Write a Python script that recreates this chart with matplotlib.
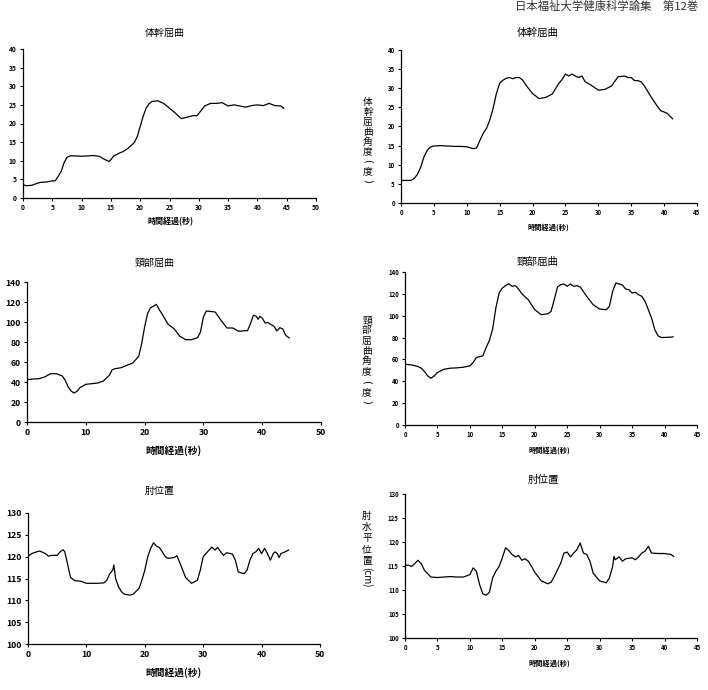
"""
Six time-course panels (trunk flexion, neck flexion, elbow position) for two
subjects, laid out as in the journal page.

Writes out.png.
"""

import matplotlib
matplotlib.use("Agg")
import matplotlib.pyplot as plt

plt.rcParams["font.family"] = ["Noto Sans CJK JP", "DejaVu Sans"]

W, H = 708, 690

# --- data (time in s, value) ---
trunk_l_t = [0, 0.5, 1.5, 2.5, 3, 4, 5, 5.5, 6, 6.5, 7, 7.5, 8, 9, 10, 11, 12, 13, 14,
             14.7, 15, 15.5, 16.5, 17, 18, 19, 19.5, 20, 20.5, 21, 21.5, 22, 23, 24, 25,
             26, 27, 28, 29, 29.7, 30.5, 31, 32, 33, 34, 35, 36, 37, 38, 39, 40, 41, 42,
             43, 44, 44.5]
trunk_l_v = [3.6, 3.3, 3.4, 4.0, 4.2, 4.3, 4.6, 4.6, 5.8, 7.1, 9.4, 10.9, 11.3, 11.3,
             11.2, 11.3, 11.4, 11.2, 10.3, 9.8, 10.3, 11.3, 12.1, 12.4, 13.4, 14.9, 16.5,
             19.2, 21.9, 24.1, 25.3, 25.9, 26.1, 25.4, 24.1, 22.8, 21.3, 21.7, 22.1, 22.1,
             23.7, 24.7, 25.4, 25.4, 25.6, 24.7, 25.0, 24.7, 24.4, 24.8, 25.0, 24.8, 25.4,
             24.8, 24.7, 24.1]

trunk_r_t = [0, 1.5, 2, 2.5, 3, 3.5, 4, 4.5, 5, 6, 7, 8, 9, 10, 11, 11.5, 12, 12.5, 13,
             13.5, 14, 14.5, 15, 15.5, 16, 16.5, 17, 17.5, 18, 18.5, 19, 20, 21, 22, 23,
             24, 24.5, 25, 25.5, 26, 26.5, 27, 27.5, 28, 29, 30, 31, 32, 33, 34, 34.5, 35,
             35.5, 36, 36.5, 37, 38, 39, 39.5, 40, 40.5, 41, 41.3]
trunk_r_v = [5.9, 5.9, 6.4, 7.5, 9.4, 12.1, 13.8, 14.7, 14.9, 15.0, 14.9, 14.8, 14.8,
             14.7, 14.2, 14.4, 16.4, 18.2, 19.5, 21.7, 24.7, 28.6, 31.3, 32.1, 32.6, 32.8,
             32.5, 32.8, 32.8, 32.1, 30.8, 28.6, 27.3, 27.6, 28.5, 31.3, 32.3, 33.7, 33.2,
             33.7, 33.2, 32.8, 33.2, 31.7, 30.7, 29.5, 29.7, 30.6, 33.0, 33.2, 32.8, 32.8,
             32.0, 32.0, 31.7, 30.6, 27.8, 25.2, 24.1, 23.8, 23.4, 22.5, 22.0]

neck_l_t = [0, 1, 2, 3, 4, 5, 6, 6.5, 7, 7.5, 8, 8.5, 9, 10, 11, 12, 13, 14, 14.5, 15,
            16, 17, 18, 19, 19.5, 20, 20.5, 21, 21.5, 22, 22.5, 23, 24, 25, 26, 27, 28,
            29, 29.5, 30, 30.5, 31, 32, 33, 34, 35, 36, 37, 37.5, 38, 38.5, 39, 39.3,
            39.6, 40, 40.5, 41, 42, 42.5, 43, 43.5, 44, 44.6]
neck_l_v = [42.3, 43, 43.3, 45, 48.3, 48.3, 46, 41.7, 35, 31, 29, 30.7, 34.3, 37.7,
            38.3, 39, 41, 46.7, 52.3, 53.3, 54.3, 56.7, 59, 65.7, 78.3, 95, 108.3, 114.3,
            115.7, 117.7, 112.3, 107.7, 97.7, 93.3, 85.7, 82.3, 82.3, 84.3, 90, 105, 111,
            110.7, 110, 101.7, 94, 94, 90.7, 91.3, 91.3, 98.3, 106.7, 105.7, 102.7,
            105.7, 104, 99, 99.3, 95.7, 91, 94.3, 93, 86.7, 84]

neck_r_t = [0, 1, 2, 2.5, 3, 3.5, 4, 4.5, 5, 6, 7, 8, 9, 10, 10.5, 11, 12, 12.5, 13,
            13.5, 14, 14.5, 15, 15.5, 16, 16.5, 17, 17.5, 18, 19, 20, 21, 22, 22.5, 23,
            23.5, 24, 24.5, 25, 25.5, 26, 26.5, 27, 28, 29, 30, 31, 31.5, 32, 32.5, 33,
            33.5, 34, 34.5, 35, 35.5, 36, 36.5, 37, 38, 38.5, 39, 39.5, 40, 41, 41.3]
neck_r_v = [55.6, 55, 53.5, 52, 48.9, 44.9, 42.8, 44.9, 48, 51, 52, 52.3, 52.9, 54.1,
            57.2, 61.8, 63.3, 70.9, 77.3, 87.7, 107, 120.8, 125.3, 127.5, 129.3, 126.9,
            127.5, 124.4, 120.1, 114.6, 105.5, 100.9, 101.8, 103.9, 114.6, 126.3, 128.4,
            129, 126.9, 129, 126.9, 127.5, 126.3, 117.7, 110.1, 106.1, 105.5, 108.5,
            122.3, 129.9, 129, 128.1, 124.4, 123.8, 120.8, 121.4, 119.2, 117.7, 113.1,
            97.8, 87.1, 81.6, 80.1, 80.1, 80.4, 80.7]

elbow_l_t = [0, 0.5, 1, 2, 3, 3.5, 4, 5, 5.5, 6, 6.3, 6.7, 7, 7.3, 8, 9, 10, 11, 12, 13,
             13.5, 14, 14.5, 14.7, 15, 15.5, 16, 16.5, 17, 17.5, 18, 19, 19.5, 20, 20.5,
             21, 21.5, 22, 22.5, 23, 23.5, 24, 25, 25.5, 26, 26.5, 27, 28, 29, 29.5, 30,
             31, 31.5, 32, 32.5, 33, 33.5, 34, 35, 35.5, 36, 37, 37.5, 38, 38.5, 39, 39.5,
             40, 40.5, 41, 41.5, 42, 42.3, 42.7, 43, 43.3, 44, 44.6]
elbow_l_v = [120.1, 120.6, 120.9, 121.3, 120.7, 120.1, 120.3, 120.3, 121.1, 121.6,
             121.1, 118.8, 116.9, 115.2, 114.5, 114.4, 113.9, 113.9, 113.9, 114, 114.6,
             116.1, 116.9, 118.1, 115, 113.1, 112, 111.4, 111.3, 111.2, 111.4, 112.7,
             114.6, 116.9, 120, 121.9, 123.2, 122.4, 122.1, 121.1, 120, 119.6, 119.8,
             120.2, 118.6, 116.9, 115.2, 113.9, 114.6, 116.9, 120, 121.5, 122.2, 121.5,
             122.1, 121.1, 120.3, 120.9, 120.6, 119.2, 116.5, 116.1, 116.9, 119.2, 120.7,
             121.1, 121.9, 120.7, 121.9, 120.7, 119.2, 120.7, 121.1, 120.7, 119.8, 120.7,
             121.1, 121.5]

elbow_r_t = [0, 0.5, 1, 1.5, 2, 2.5, 3, 3.5, 4, 5, 6, 7, 8, 9, 10, 10.5, 11, 11.5, 12,
             12.5, 13, 13.5, 14, 14.5, 15, 15.5, 16, 16.5, 17, 17.5, 18, 18.5, 19, 19.5,
             20, 21, 22, 22.5, 23, 24, 24.5, 25, 25.5, 26, 26.5, 27, 27.5, 28, 28.5, 29,
             30, 31, 31.5, 32, 32.2, 32.4, 33, 33.5, 34, 35, 35.5, 36, 36.5, 37, 37.5, 38,
             39, 40, 41, 41.4]
elbow_r_v = [115.1, 115.2, 114.9, 115.5, 116.2, 115.5, 114.1, 113.4, 112.7, 112.6,
             112.7, 112.8, 112.7, 112.7, 113.2, 114.6, 113.9, 111.1, 109.2, 108.9, 109.5,
             112.5, 113.9, 114.9, 116.7, 118.8, 118.2, 117.4, 116.9, 117.2, 116.2, 116.5,
             116, 114.9, 113.7, 111.9, 111.3, 111.6, 112.8, 115.6, 117.7, 117.9, 116.9,
             117.7, 118.4, 119.8, 117.7, 117.4, 116, 113.5, 111.9, 111.5, 112.5, 114.9,
             117, 116.3, 116.9, 116, 116.5, 116.7, 116.3, 116.9, 117.7, 118.1, 119.1,
             117.7, 117.6, 117.6, 117.4, 117]

titles = ["体幹屈曲", "体幹屈曲", "頸部屈曲", "頸部屈曲", "肘位置", "肘位置"]
xlabel = "時間経過(秒)"
header = "日本福祉大学健康科学論集　第12巻"


def fx(x):
    return x / W


def fy(y):
    return 1 - y / H


def add_panel(fig, box, t, v, xlim, xstep, ylim, ystep, tick_fs, title, title_xy,
              title_fs, xlab_xy, xlab_fs):
    l, t_, r, b = box
    ax = fig.add_axes([fx(l), fy(b), (r - l) / W, (b - t_) / H])
    ax.plot(t, v, color="black", lw=0.9)
    ax.set_xlim(*xlim)
    ax.set_ylim(*ylim)
    ax.set_xticks(range(xlim[0], xlim[1] + 1, xstep))
    ax.set_yticks(range(ylim[0], ylim[1] + 1, ystep))
    for s in ("top", "right"):
        ax.spines[s].set_visible(False)
    for s in ("left", "bottom"):
        ax.spines[s].set_linewidth(0.9)
    ax.tick_params(direction="out", length=2.5, width=0.8, pad=2, labelsize=tick_fs)
    for lab in ax.get_xticklabels() + ax.get_yticklabels():
        lab.set_fontweight("bold")
    fig.text(fx(title_xy[0]), fy(title_xy[1]), title, ha="center", va="center",
             fontsize=title_fs)
    fig.text(fx(xlab_xy[0]), fy(xlab_xy[1]), xlabel, ha="center", va="center",
             fontsize=xlab_fs, fontweight="bold")
    return ax


def vlabel(fig, x, y0, y1, chars, fs):
    # stacked vertical label, one glyph per row
    n = len(chars)
    for i, ch in enumerate(chars):
        y = y0 + (y1 - y0) * i / (n - 1)
        if ch in "()":
            # parenthesis turned sideways, as in vertical typesetting
            fig.text(fx(x), fy(y), ch, ha="center", va="center", fontsize=fs,
                     rotation=270, family="DejaVu Sans")
        else:
            fig.text(fx(x), fy(y), ch, ha="center", va="center", fontsize=fs)


fig = plt.figure(figsize=(W / 100, H / 100), dpi=100)

add_panel(fig, (23, 49, 316, 198), trunk_l_t, trunk_l_v, (0, 50), 5, (0, 40), 5, 4.8,
          titles[0], (165, 33), 7.2, (170, 222), 5.8)
add_panel(fig, (401, 50, 697, 203), trunk_r_t, trunk_r_v, (0, 45), 5, (0, 40), 5, 4.3,
          titles[1], (538, 33), 7.6, (548, 227), 5.2)
add_panel(fig, (27, 282, 321, 422), neck_l_t, neck_l_v, (0, 50), 10, (0, 140), 20, 6.2,
          titles[2], (155, 263), 7.2, (174, 451), 7.0)
add_panel(fig, (405, 272, 697, 425), neck_r_t, neck_r_v, (0, 45), 5, (0, 140), 20, 4.3,
          titles[3], (538, 262), 7.6, (549, 450), 5.2)
add_panel(fig, (28, 513, 320, 644), elbow_l_t, elbow_l_v, (0, 50), 10, (100, 130), 5, 6.2,
          titles[4], (160, 491), 7.2, (174, 673), 7.0)
add_panel(fig, (405, 494, 697, 638), elbow_r_t, elbow_r_v, (0, 45), 5, (100, 130), 5, 4.3,
          titles[5], (543, 480), 7.6, (549, 663), 5.2)

vlabel(fig, 368, 102, 181, "体幹屈曲角度(度)", 7)
vlabel(fig, 367, 320, 402, "頸部屈曲角度(度)", 7)
vlabel(fig, 367, 516, 561, "肘水平位置", 7)
fig.text(fx(367), fy(577), "(cm)", ha="center", va="center", fontsize=7, rotation=270)

fig.text(fx(698), fy(1), header, ha="right", va="top", fontsize=8.2, color="#333333")

fig.savefig("out.png", dpi=100)
